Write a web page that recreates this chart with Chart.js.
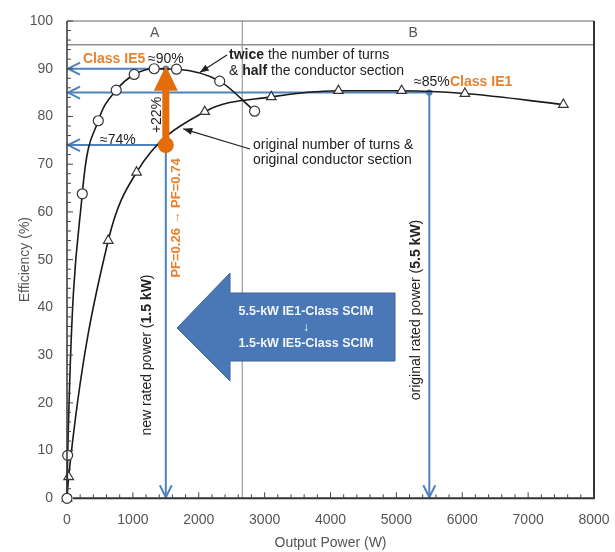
<!DOCTYPE html>
<html>
<head>
<meta charset="utf-8">
<script src="https://cdn.jsdelivr.net/npm/chart.js@4/dist/chart.umd.min.js"></script>
<style>
  html, body { margin: 0; padding: 0; background: #fff; }
  #wrap { width: 615px; height: 552px; }
</style>
</head>
<body>
<div id="wrap"><canvas id="c" width="615" height="552"></canvas></div>
<script>
// Efficiency curves of the two winding designs (W, %)
const powerTwiceTurns = [0, 10, 232, 475, 747, 1020, 1323, 1662, 2318, 2848];
const effTwiceTurns   = [0, 9, 63.8, 79.1, 85.5, 88.8, 90.0, 89.9, 87.4, 81.1];
const powerOriginal   = [0, 25, 626, 1056, 2091, 3101, 4121, 5080, 6040, 7535];
const effOriginal     = [0, 4.5, 54.0, 68.3, 81.0, 84.1, 85.4, 85.4, 84.8, 82.5];

// Axis tick values
const xTickValues = [0, 1000, 2000, 3000, 4000, 5000, 6000, 7000, 8000];
const yTickValues = [0, 10, 20, 30, 40, 50, 60, 70, 80, 90, 100];

// Rated operating points and efficiency classes
const ratedPowerNew = 1500;
const ratedPowerOld = 5500;
const effIE5 = 90;
const effIE1 = 85;
const effOldAtNewRating = 74;

// Operating regions
const regionLabels = ['A', 'B'];
const regionSplit = 2660;
const regionBandFrom = 95;

const FONT = '"Liberation Sans", Arial, sans-serif';
const BLUE = '#4f81bd';
const ORANGE = '#e46c0a';
const ORANGE_TXT = '#e8812f';
const TEXT = '#222';

function toPoints(xs, ys) { return xs.map((x, i) => ({ x: x, y: ys[i] })); }

function drawMixed(ctx, parts, x, y, size) {
  // parts: [[text, bold], ...] drawn left to right from x
  let cx = x;
  parts.forEach(p => {
    ctx.font = (p[1] ? 'bold ' : '') + size + 'px ' + FONT;
    ctx.fillText(p[0], cx, y);
    cx += ctx.measureText(p[0]).width;
  });
}
function mixedWidth(ctx, parts, size) {
  let w = 0;
  parts.forEach(p => {
    ctx.font = (p[1] ? 'bold ' : '') + size + 'px ' + FONT;
    w += ctx.measureText(p[0]).width;
  });
  return w;
}
function drawRotatedMixed(ctx, parts, cx, cy, size, color) {
  ctx.save();
  ctx.translate(cx, cy);
  ctx.rotate(-Math.PI / 2);
  ctx.fillStyle = color;
  ctx.textBaseline = 'middle';
  ctx.textAlign = 'left';
  const w = mixedWidth(ctx, parts, size);
  drawMixed(ctx, parts, -w / 2, 0, size);
  ctx.restore();
}
function chevron(ctx, tipX, tipY, dir) {
  ctx.beginPath();
  if (dir === 'left') {
    ctx.moveTo(tipX + 12, tipY - 6); ctx.lineTo(tipX, tipY); ctx.lineTo(tipX + 12, tipY + 6);
  } else {
    ctx.moveTo(tipX - 6, tipY - 12); ctx.lineTo(tipX, tipY); ctx.lineTo(tipX + 6, tipY - 12);
  }
  ctx.stroke();
}
function pointer(ctx, x1, y1, x2, y2) {
  ctx.save();
  ctx.strokeStyle = '#222'; ctx.fillStyle = '#222'; ctx.lineWidth = 1.2;
  ctx.beginPath(); ctx.moveTo(x1, y1); ctx.lineTo(x2, y2); ctx.stroke();
  const a = Math.atan2(y2 - y1, x2 - x1);
  ctx.beginPath();
  ctx.moveTo(x2, y2);
  ctx.lineTo(x2 - 9 * Math.cos(a) + 3.5 * Math.sin(a), y2 - 9 * Math.sin(a) - 3.5 * Math.cos(a));
  ctx.lineTo(x2 - 9 * Math.cos(a) - 3.5 * Math.sin(a), y2 - 9 * Math.sin(a) + 3.5 * Math.cos(a));
  ctx.closePath(); ctx.fill();
  ctx.restore();
}

const frame = {
  id: 'frame',
  beforeDatasetsDraw(chart) {
    const { ctx, chartArea: a, scales: { x, y } } = chart;
    ctx.save();
    // region band and divider
    ctx.strokeStyle = '#555'; ctx.lineWidth = 1;
    const yb = y.getPixelForValue(regionBandFrom);
    ctx.beginPath(); ctx.moveTo(a.left, yb); ctx.lineTo(a.right, yb); ctx.stroke();
    ctx.strokeStyle = '#8a8a8a';
    const xs = x.getPixelForValue(regionSplit);
    ctx.beginPath(); ctx.moveTo(xs, a.top); ctx.lineTo(xs, a.bottom); ctx.stroke();
    ctx.fillStyle = '#555'; ctx.font = '14px ' + FONT;
    ctx.textAlign = 'center'; ctx.textBaseline = 'middle';
    const ym = y.getPixelForValue((100 + regionBandFrom) / 2);
    ctx.fillText(regionLabels[0], (a.left + xs) / 2, ym);
    ctx.fillText(regionLabels[1], (xs + a.right) / 2 - 5, ym);

    // blue guide lines
    ctx.strokeStyle = BLUE; ctx.lineWidth = 2;
    const xn = x.getPixelForValue(ratedPowerNew), xo = x.getPixelForValue(ratedPowerOld);
    const y90 = y.getPixelForValue(effIE5), y85 = y.getPixelForValue(effIE1);
    const y74 = y.getPixelForValue(effOldAtNewRating);
    const y0 = y.getPixelForValue(0);
    [[xn, y90], [xo, y85], [xn, y74]].forEach(p => {
      ctx.beginPath(); ctx.moveTo(p[0], p[1]); ctx.lineTo(a.left + 1, p[1]); ctx.stroke();
      chevron(ctx, a.left + 1, p[1], 'left');
    });
    [[xn, y90], [xo, y85]].forEach(p => {
      ctx.beginPath(); ctx.moveTo(p[0], p[1]); ctx.lineTo(p[0], y0 - 1); ctx.stroke();
      chevron(ctx, p[0], y0 - 1, 'down');
    });
    ctx.fillStyle = BLUE;
    [[xn, y90], [xo, y85]].forEach(p => {
      ctx.beginPath(); ctx.arc(p[0], p[1], 3.2, 0, Math.PI * 2); ctx.fill();
    });

    // big block arrow
    ctx.fillStyle = '#4a78b6'; ctx.strokeStyle = '#3c6499'; ctx.lineWidth = 1;
    ctx.beginPath();
    ctx.moveTo(177, 328); ctx.lineTo(230, 273); ctx.lineTo(230, 293);
    ctx.lineTo(395, 293); ctx.lineTo(395, 361); ctx.lineTo(230, 361);
    ctx.lineTo(230, 381); ctx.closePath(); ctx.fill(); ctx.stroke();
    ctx.fillStyle = '#f2f6fc'; ctx.font = 'bold 12.5px ' + FONT;
    ctx.textAlign = 'center'; ctx.textBaseline = 'middle';
    ctx.fillText('5.5-kW IE1-Class SCIM', 306, 312);
    ctx.font = 'bold 12px ' + FONT;
    ctx.fillText('\u2193', 306, 328);
    ctx.font = 'bold 12.5px ' + FONT;
    ctx.fillText('1.5-kW IE5-Class SCIM', 306, 344);
    ctx.restore();
  },
  afterDatasetsDraw(chart) {
    const { ctx, chartArea: a, scales: { x, y } } = chart;
    ctx.save();
    // plot frame
    ctx.strokeStyle = '#666'; ctx.lineWidth = 1.2;
    ctx.beginPath(); ctx.moveTo(a.left, a.top); ctx.lineTo(a.right, a.top); ctx.stroke();
    ctx.strokeStyle = '#333'; ctx.lineWidth = 2;
    ctx.beginPath(); ctx.moveTo(a.right, a.top); ctx.lineTo(a.right, a.bottom); ctx.lineTo(a.left + 6, a.bottom); ctx.stroke();
    ctx.lineWidth = 1.5;
    ctx.beginPath(); ctx.moveTo(a.left, a.top); ctx.lineTo(a.left, a.bottom - 6); ctx.stroke();
    // inward ticks
    ctx.lineWidth = 1; ctx.strokeStyle = '#444';
    for (let v = 200; v <= 8000; v += 200) {
      const px = x.getPixelForValue(v), len = v % 1000 === 0 ? 6 : 4;
      ctx.beginPath(); ctx.moveTo(px, a.bottom); ctx.lineTo(px, a.bottom - len); ctx.stroke();
    }
    for (let v = 2; v <= 100; v += 2) {
      const py = y.getPixelForValue(v), len = v % 10 === 0 ? 6 : 4;
      ctx.beginPath(); ctx.moveTo(a.left, py); ctx.lineTo(a.left + len, py); ctx.stroke();
    }

    // efficiency gain arrow at the new rating
    const xn = x.getPixelForValue(ratedPowerNew);
    const yBase = y.getPixelForValue(effOldAtNewRating);
    const yTip = y.getPixelForValue(effIE5) - 3;
    ctx.fillStyle = ORANGE;
    ctx.fillRect(xn - 3.5, yTip + 22, 7, yBase - yTip - 22);
    ctx.beginPath(); ctx.moveTo(xn, yTip); ctx.lineTo(xn + 12, yTip + 25); ctx.lineTo(xn - 12, yTip + 25); ctx.closePath(); ctx.fill();
    ctx.beginPath(); ctx.arc(xn, yBase, 8, 0, Math.PI * 2); ctx.fill();

    // labels
    ctx.textAlign = 'left'; ctx.textBaseline = 'middle';
    ctx.fillStyle = ORANGE_TXT; ctx.font = 'bold 14px ' + FONT;
    ctx.fillText('Class IE5', 83, 59);
    ctx.fillText('Class IE1', 450, 82);
    ctx.fillStyle = TEXT; ctx.font = '14px ' + FONT;
    ctx.fillText('\u224890%', 148, 59);
    ctx.fillText('\u224874%', 100, 140);
    ctx.fillText('\u224885%', 414, 82);
    drawMixed(ctx, [['twice', true], [' the number of turns', false]], 229, 55, 14);
    drawMixed(ctx, [['& ', false], ['half', true], [' the conductor section', false]], 229, 71, 14);
    ctx.font = '14px ' + FONT;
    ctx.fillText('original number of turns &', 253, 145);
    ctx.fillText('original conductor section', 253, 160);

    pointer(ctx, 227, 55, x.getPixelForValue(2015), y.getPixelForValue(89.2));
    pointer(ctx, 250, 149, x.getPixelForValue(1765), y.getPixelForValue(77.4));

    drawRotatedMixed(ctx, [['+22%', false]], 157, 115, 14, TEXT);
    drawRotatedMixed(ctx, [['PF=0.26 \u2192 PF=0.74', true]], 176, 218, 13, ORANGE_TXT);
    drawRotatedMixed(ctx, [['new rated power (', false], ['1.5 kW', true], [')', false]], 147, 355, 14, TEXT);
    drawRotatedMixed(ctx, [['original rated power (', false], ['5.5 kW', true], [')', false]], 416, 310, 14, TEXT);
    ctx.restore();
  }
};

const axisFont = { family: FONT, size: 14 };

new Chart(document.getElementById('c'), {
  type: 'scatter',
  data: {
    datasets: [
      {
        label: 'twice the number of turns & half the conductor section',
        data: toPoints(powerTwiceTurns, effTwiceTurns),
        showLine: true,
        clip: false,
        cubicInterpolationMode: 'monotone',
        borderColor: '#1a1a1a', borderWidth: 1.6,
        pointStyle: 'circle', pointRadius: 5,
        pointBackgroundColor: '#fff', pointBorderColor: '#333', pointBorderWidth: 1.2
      },
      {
        label: 'original number of turns & original conductor section',
        data: toPoints(powerOriginal, effOriginal),
        showLine: true,
        clip: false,
        cubicInterpolationMode: 'monotone',
        borderColor: '#1a1a1a', borderWidth: 1.6,
        pointStyle: 'triangle', pointRadius: 5.5,
        pointBackgroundColor: '#fff', pointBorderColor: '#333', pointBorderWidth: 1.2
      }
    ]
  },
  options: {
    responsive: false,
    animation: false,
    devicePixelRatio: 1,
    layout: { padding: { top: 21, right: 21, left: 0, bottom: 0 } },
    plugins: { legend: { display: false }, tooltip: { enabled: false } },
    scales: {
      x: {
        type: 'linear', min: 0, max: 8000,
        afterBuildTicks: s => { s.ticks = xTickValues.map(v => ({ value: v })); },
        afterFit: s => { s.height = 53.7; s.paddingLeft = 0; s.paddingRight = 0; },
        grid: { display: false, drawTicks: false },
        border: { display: false },
        ticks: { padding: 13, color: '#555', font: axisFont, maxRotation: 0, autoSkip: false, callback: v => String(v) },
        title: { display: true, text: 'Output Power (W)', color: '#555', font: axisFont, padding: { top: 0, bottom: 0 } }
      },
      y: {
        type: 'linear', min: 0, max: 100,
        afterBuildTicks: s => { s.ticks = yTickValues.map(v => ({ value: v })); },
        afterFit: s => { s.width = 67; s.paddingTop = 0; s.paddingBottom = 0; },
        grid: { display: false, drawTicks: false },
        border: { display: false },
        ticks: { padding: 14, color: '#555', font: axisFont, autoSkip: false, callback: v => String(v) },
        title: { display: true, text: 'Efficiency (%)', color: '#555', font: axisFont, padding: { top: 16.5, bottom: 0 } }
      }
    }
  },
  plugins: [frame]
});
</script>
</body>
</html>
